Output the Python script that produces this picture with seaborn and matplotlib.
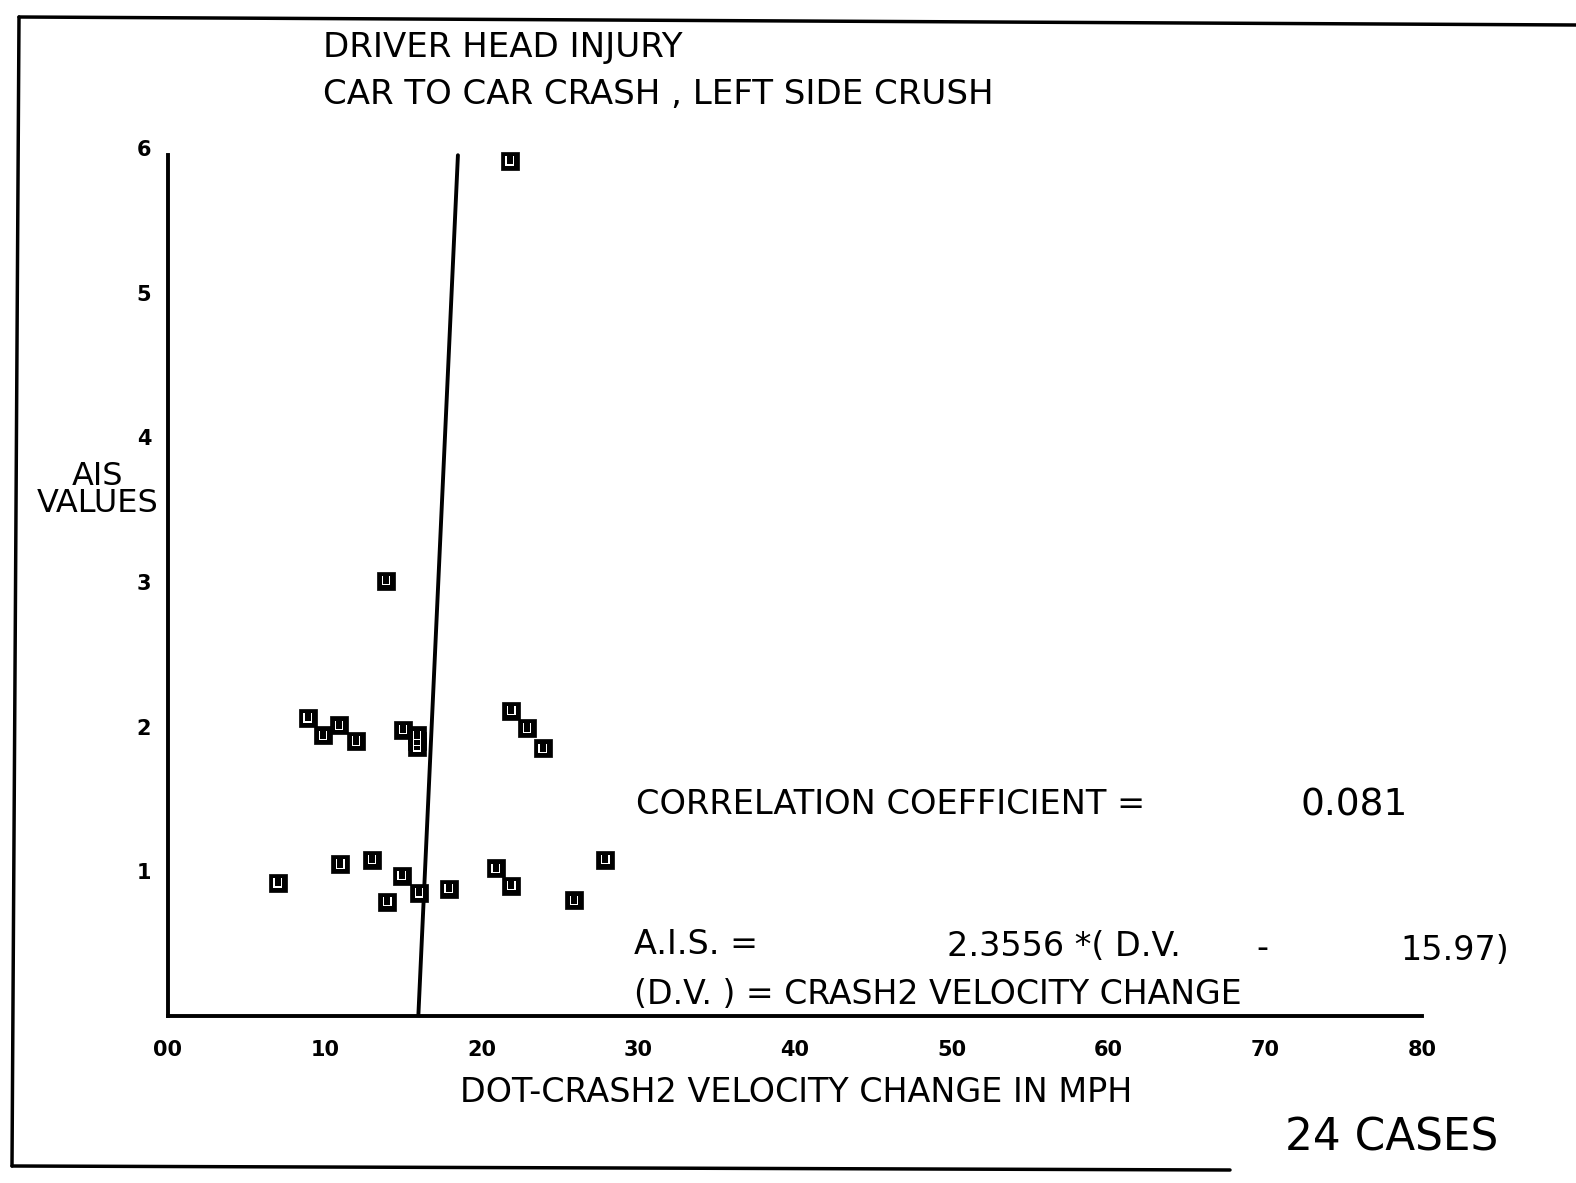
import numpy as np
import pandas as pd
import matplotlib
matplotlib.use("Agg")
import matplotlib.pyplot as plt
from matplotlib.lines import Line2D
import seaborn as sns

# ---- data ----
dv_values = [21.8, 13.9, 8.9, 9.9, 10.9, 12.0, 15.0, 15.9, 15.9, 15.9,
             21.9, 22.9, 23.9, 7.0, 11.0, 13.0, 14.9, 14.0, 16.0, 17.9,
             20.9, 21.9, 25.9, 27.9]
ais_values = [5.91, 3.01, 2.06, 1.94, 2.01, 1.90, 1.98, 1.94, 1.90, 1.86,
              2.11, 1.99, 1.85, 0.92, 1.05, 1.08, 0.97, 0.79, 0.85, 0.88,
              1.02, 0.90, 0.80, 1.08]
slope = 2.3556
dv_offset = 15.97
line_ais = np.array([0.0, 5.95])
x_ticks = [0, 10, 20, 30, 40, 50, 60, 70, 80]
x_tick_labels = ["00", "10", "20", "30", "40", "50", "60", "70", "80"]
y_ticks = [1, 2, 3, 4, 5, 6]
y_tick_labels = ["1", "2", "3", "4", "5", "6"]

df = pd.DataFrame({"dv": dv_values, "ais": ais_values})
line_df = pd.DataFrame({"ais": line_ais, "dv": dv_offset + line_ais / slope})

sns.set_style("white")
plt.rcParams["font.family"] = ["DejaVu Sans"]

W, H = 1576, 1183
fig = plt.figure(figsize=(W / 100, H / 100), dpi=100)
fig.patch.set_facecolor("white")

def fx(px):
    return px / W

def fy(py):
    return 1 - py / H

ax_left, ax_right, ax_top, ax_bottom = 168, 1422, 148, 1016
ax = fig.add_axes([fx(ax_left), fy(ax_bottom), (ax_right - ax_left) / W, (ax_bottom - ax_top) / H])
ax.set_facecolor("white")

sns.lineplot(data=line_df, x="dv", y="ais", ax=ax, color="black", lw=2.8, sort=False, estimator=None)
sns.scatterplot(data=df, x="dv", y="ais", ax=ax, marker="s", s=150, color="black", edgecolor="black", linewidth=0.5, zorder=3)
sns.scatterplot(data=df, x="dv", y="ais", ax=ax, marker="$\\sqcup$", s=45, color="white", edgecolor="none", linewidth=0, zorder=4)

ax.set_xlim(0, 80)
ax.set_ylim(0, 6)
ax.set_xticks(x_ticks)
ax.set_xticklabels(x_tick_labels, fontsize=15, fontweight="bold", color="black")
ax.set_yticks(y_ticks)
ax.set_yticklabels(y_tick_labels, fontsize=15, fontweight="bold", color="black")
ax.tick_params(axis="both", length=0)
ax.tick_params(axis="x", pad=17)
ax.tick_params(axis="y", pad=12)
ax.set_xlabel("")
ax.set_ylabel("")
for s in ["top", "right"]:
    ax.spines[s].set_visible(False)
for s in ["left", "bottom"]:
    ax.spines[s].set_linewidth(2.8)
    ax.spines[s].set_color("black")
ax.spines["left"].set_bounds(0, 5.95)

# ---- texts ----
def t(x, y, s, size=24, ha="left"):
    fig.text(fx(x), fy(y), s, ha=ha, va="center", fontsize=size, color="black", family="DejaVu Sans")

t(323, 48, "DRIVER HEAD INJURY", 24.5)
t(323, 94, "CAR TO CAR CRASH , LEFT SIDE CRUSH", 24.5)
fig.text(fx(98), fy(490), "AIS\nVALUES", ha="center", va="center", linespacing=0.85,
         fontsize=23, color="black")
t(460, 1093, "DOT-CRASH2 VELOCITY CHANGE IN MPH", 24)
t(636, 804, "CORRELATION COEFFICIENT =", 24.2)
t(1408, 806, "0.081", 27, ha="right")
t(634, 944, "A.I.S. =", 24)
t(947, 947, "2.3556 *( D.V.", 24)
t(1262, 949, "-", 24, ha="center")
t(1509, 951, "15.97)", 24, ha="right")
t(634, 995, "(D.V. ) = CRASH2 VELOCITY CHANGE", 23.9)
t(1285, 1138, "24 CASES", 31.5)

# ---- page frame ----
fig.add_artist(Line2D([fx(19), fx(1576)], [fy(17), fy(25)], color="black", lw=2.5, transform=fig.transFigure))
fig.add_artist(Line2D([fx(19), fx(12)], [fy(17), fy(1166)], color="black", lw=2.5, transform=fig.transFigure))
fig.add_artist(Line2D([fx(12), fx(1230)], [fy(1166), fy(1170)], color="black", lw=2.5, transform=fig.transFigure))

fig.savefig("out.png", dpi=100, facecolor="white")
